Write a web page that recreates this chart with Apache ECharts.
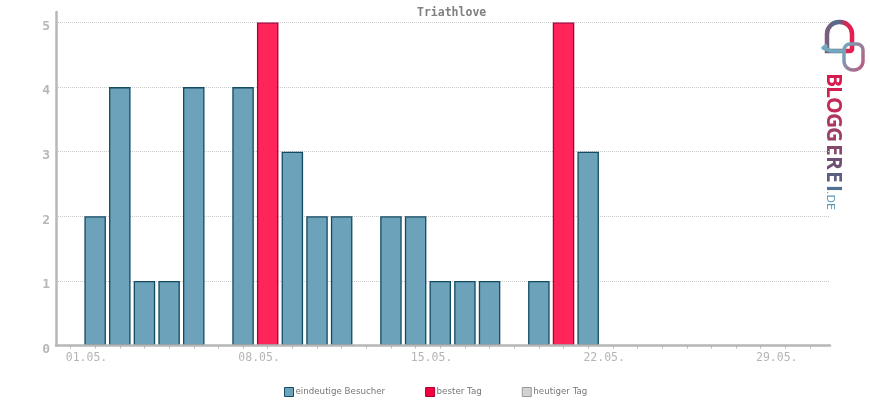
<!DOCTYPE html>
<html>
<head>
    <meta charset="utf-8" />
    <title>Triathlove</title>
    <script src="https://cdn.jsdelivr.net/npm/echarts@6/dist/echarts.min.js"></script>
    <style>
        html, body { margin: 0; padding: 0; background: #fff; }
        #main { width: 870px; height: 400px; }
    </style>
</head>
<body>
    <div id="main"></div>
    <script type="text/javascript">
        // tick position of each day on the x axis
        var dayTicks = [0, 1, 2, 3, 4, 5, 6, 7, 8, 9, 10, 11, 12, 13, 14, 15, 16, 17, 18, 19, 20, 21, 22, 23, 24, 25, 26, 27, 28, 29, 30];
        var visitors = [null, 2, 4, 1, 1, 4, null, 4, null, 3, 2, 2, null, 2, 2, 1, 1, 1, null, 1, null, 3, null, null, null, null, null, null, null, null, null];
        var bestDay = [null, null, null, null, null, null, null, null, 5, null, null, null, null, null, null, null, null, null, null, null, 5, null, null, null, null, null, null, null, null, null, null];
        var today = [null, null, null, null, null, null, null, null, null, null, null, null, null, null, null, null, null, null, null, null, null, null, null, null, null, null, null, null, null, null, null];
        var labelTicks = [0, 7, 14, 21, 28];
        var tickLabels = ['01.05.', '08.05.', '15.05.', '22.05.', '29.05.'];
        var yTicks = [0, 1, 2, 3, 4, 5];

        function pairs(values) {
            return dayTicks.map(function (d, i) { return [d, values[i]]; });
        }

        var axisGrey = '#b7b7b7';
        var monoFont = '"DejaVu Sans Mono", monospace';

        // logo letters, one colour per letter running down the side
        var logoLetters = ['B', 'L', 'O', 'G', 'G', 'E', 'R', 'E', 'I'];
        var logoColors = ['#d81b4f', '#d01f52', '#c22a58', '#ae365f', '#9a4066', '#85496c', '#704f74', '#5c5f80', '#4f7294'];
        var logoOffsets = [73, 86, 97, 113, 127, 144, 156, 171, 185];

        var graphics = [
            {
                type: 'rect',
                silent: true,
                shape: { x: 827, y: 22, width: 25, height: 29, r: [12, 12, 2, 0] },
                style: {
                    fill: 'none',
                    lineWidth: 4.5,
                    stroke: {
                        type: 'linear', x: 0, y: 0, x2: 1, y2: 0,
                        colorStops: [
                            { offset: 0, color: '#85587a' },
                            { offset: 0.45, color: '#4a7090' },
                            { offset: 0.7, color: '#d02855' },
                            { offset: 1, color: '#f01850' }
                        ]
                    }
                }
            },
            {
                type: 'polyline',
                silent: true,
                shape: { points: [[827, 45], [823, 48], [831, 51], [846, 51]] },
                style: { fill: 'none', lineWidth: 3.5, lineJoin: 'round', stroke: '#74aabf' }
            },
            {
                type: 'rect',
                silent: true,
                shape: { x: 844, y: 44, width: 19, height: 26, r: [6, 6, 9, 9] },
                style: {
                    fill: 'none',
                    lineWidth: 3.5,
                    stroke: {
                        type: 'linear', x: 0, y: 0.3, x2: 1, y2: 0.7,
                        colorStops: [
                            { offset: 0, color: '#6fa8bd' },
                            { offset: 1, color: '#b85c80' }
                        ]
                    }
                }
            },
            {
                type: 'text',
                silent: true,
                x: 835,
                y: 191,
                rotation: -Math.PI / 2,
                style: { text: '.DE', fill: '#5a9ab8', font: '11px "DejaVu Sans"' }
            }
        ];
        logoLetters.forEach(function (letter, i) {
            graphics.push({
                type: 'text',
                silent: true,
                x: 843,
                y: logoOffsets[i],
                rotation: -Math.PI / 2,
                style: { text: letter, fill: logoColors[i], font: 'bold 21px "Open Sans"' }
            });
        });

        var myChart = echarts.init(document.getElementById('main'), null, { renderer: 'canvas' });
        var option = {
            animation: false,
            backgroundColor: '#fff',
            title: {
                text: 'Triathlove',
                left: 412,
                top: 2,
                textStyle: { color: '#808080', fontSize: 11.5, fontWeight: 'bold', fontFamily: monoFont }
            },
            legend: {
                left: 279,
                top: 382,
                icon: 'rect',
                itemWidth: 9,
                itemHeight: 9,
                itemGap: 40,
                textStyle: { color: '#777', fontSize: 8.7, fontFamily: '"DejaVu Sans"', padding: [0, 0, 0, -3] },
                data: [
                    { name: 'eindeutige Besucher', itemStyle: { color: '#6ca2ba', borderColor: '#134b63', borderWidth: 1 } },
                    { name: 'bester Tag', itemStyle: { color: '#f5003f', borderColor: '#a8003a', borderWidth: 1 } },
                    { name: 'heutiger Tag', itemStyle: { color: '#d2d2d2', borderColor: '#999', borderWidth: 1 } }
                ]
            },
            grid: { left: 56, right: 40, top: 12, bottom: 54.5 },
            xAxis: {
                type: 'value',
                min: -0.588,
                max: 30.81,
                z: 5,
                axisLine: { onZero: false, lineStyle: { color: axisGrey, width: 2.5 } },
                axisTick: { show: true, customValues: dayTicks, length: 3, lineStyle: { color: axisGrey, width: 1 } },
                axisLabel: {
                    customValues: labelTicks,
                    color: '#b5b5b5',
                    fontSize: 11.5,
                    fontFamily: monoFont,
                    margin: 7,
                    padding: [0, 0, 0, 32],
                    formatter: function (v) { return tickLabels[labelTicks.indexOf(v)]; }
                },
                splitLine: { show: false }
            },
            yAxis: {
                type: 'value',
                min: 0,
                max: 5.163,
                axisLine: { show: true, onZero: false, lineStyle: { color: axisGrey, width: 2.5 } },
                axisTick: { show: false, customValues: yTicks },
                axisLabel: {
                    customValues: yTicks,
                    color: '#b7b7b7',
                    fontSize: 13,
                    fontWeight: 'bold',
                    fontFamily: monoFont,
                    margin: 6,
                    verticalAlign: 'top',
                    lineHeight: 8
                },
                splitLine: { show: true, lineStyle: { color: '#c8c8c8', type: 'dotted', width: 1 } }
            },
            series: [
                {
                    name: 'eindeutige Besucher',
                    type: 'bar',
                    barWidth: 21.5,
                    barGap: '-100%',
                    itemStyle: { color: '#6ca2ba', borderColor: '#134b63', borderWidth: 1.3 },
                    data: pairs(visitors)
                },
                {
                    name: 'bester Tag',
                    type: 'bar',
                    barWidth: 21.5,
                    barGap: '-100%',
                    itemStyle: { color: '#ff2459', borderColor: '#a8003a', borderWidth: 1.3 },
                    data: pairs(bestDay)
                },
                {
                    name: 'heutiger Tag',
                    type: 'bar',
                    barWidth: 21.5,
                    barGap: '-100%',
                    itemStyle: { color: '#d2d2d2', borderColor: '#999', borderWidth: 1.3 },
                    data: pairs(today)
                }
            ],
            graphic: graphics
        };
        myChart.setOption(option);
    </script>
</body>
</html>
